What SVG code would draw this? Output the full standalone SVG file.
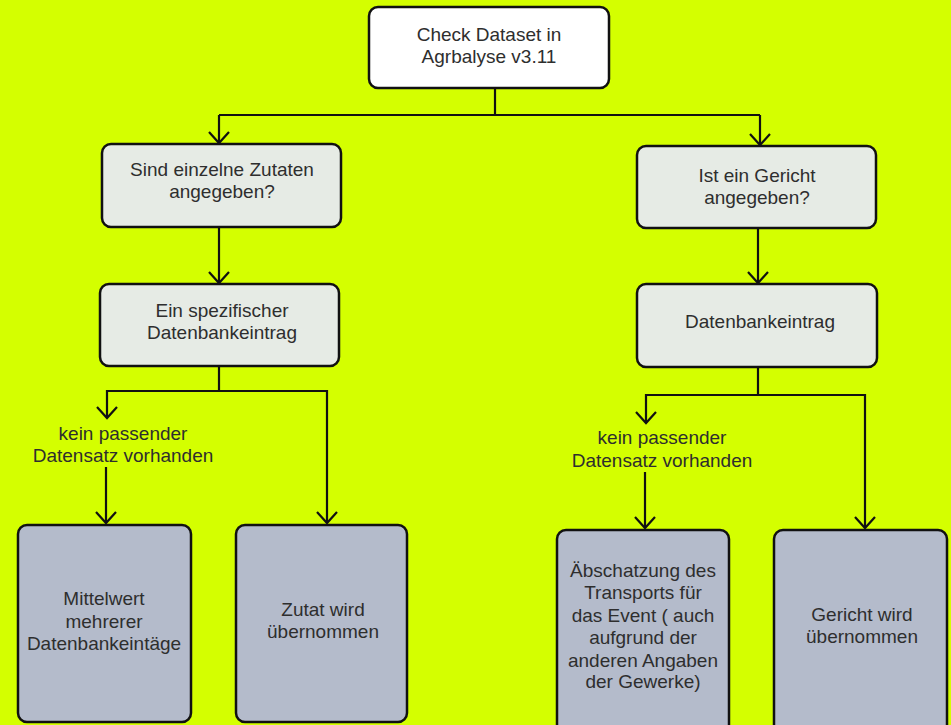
<svg xmlns="http://www.w3.org/2000/svg" width="951" height="725" viewBox="0 0 951 725">
<defs>
<style>
.box{stroke:#111;stroke-width:2.5}
.start{fill:#ffffff}
.mid{fill:#e6ebe5}
.end{fill:#b4bbcb}
text{font-family:"Liberation Sans",Arial,sans-serif;font-size:19px;fill:#2e2e2e;text-anchor:middle}
.conn{fill:none;stroke:#111;stroke-width:2.2}
</style>
<marker id="arr" markerUnits="userSpaceOnUse" markerWidth="16" markerHeight="26" viewBox="-13 -13 16 26" refX="0" refY="0" orient="auto">
<path d="M-11,-10 L0,0 L-11,10" fill="none" stroke="#111" stroke-width="2.2"/>
</marker>
</defs>
<rect width="951" height="725" fill="#d4ff00"/>
<g id="connectors">
<path class="conn" d="M495,88 V115"/>
<path class="conn" d="M219,115 H760"/>
<path class="conn" d="M219,115 V143" marker-end="url(#arr)"/>
<path class="conn" d="M760,115 V145" marker-end="url(#arr)"/>
<path class="conn" d="M219,227 V283" marker-end="url(#arr)"/>
<path class="conn" d="M758,228 V283" marker-end="url(#arr)"/>
<path class="conn" d="M219,366 V391 H107 V418" marker-end="url(#arr)"/>
<path class="conn" d="M219,391 H327 V523" marker-end="url(#arr)"/>
<path class="conn" d="M106,467 V523" marker-end="url(#arr)"/>
<path class="conn" d="M758,367 V395 H646 V423" marker-end="url(#arr)"/>
<path class="conn" d="M758,395 H865 V528" marker-end="url(#arr)"/>
<path class="conn" d="M645,472 V528" marker-end="url(#arr)"/>
</g>
<g id="label-left">
<text x="123" y="440">kein passender</text>
<text x="123" y="462">Datensatz vorhanden</text>
</g>
<g id="label-right">
<text x="662" y="444">kein passender</text>
<text x="662" y="467">Datensatz vorhanden</text>
</g>
<g id="n-check">
<rect class="box start" x="369" y="7" width="240" height="81" rx="9"/>
<text x="489" y="41">Check Dataset in</text>
<text x="489" y="63">Agrbalyse v3.11</text>
</g>
<g id="n-zutaten">
<rect class="box mid" x="102" y="144" width="239" height="83" rx="9"/>
<text x="222" y="176">Sind einzelne Zutaten</text>
<text x="222" y="198">angegeben?</text>
</g>
<g id="n-spezifisch">
<rect class="box mid" x="100" y="284" width="239" height="82" rx="9"/>
<text x="222" y="317">Ein spezifischer</text>
<text x="222" y="339">Datenbankeintrag</text>
</g>
<g id="n-gericht">
<rect class="box mid" x="637" y="146" width="239" height="82" rx="9"/>
<text x="757" y="182">Ist ein Gericht</text>
<text x="757" y="204">angegeben?</text>
</g>
<g id="n-datenbank">
<rect class="box mid" x="637" y="284" width="240" height="83" rx="9"/>
<text x="760" y="328">Datenbankeintrag</text>
</g>
<g id="n-mittelwert">
<rect class="box end" x="18" y="525" width="173" height="197" rx="9"/>
<text x="104" y="605">Mittelwert</text>
<text x="104" y="628">mehrerer</text>
<text x="104" y="650">Datenbankeintäge</text>
</g>
<g id="n-zutat">
<rect class="box end" x="236" y="525" width="171" height="197" rx="9"/>
<text x="323" y="616">Zutat wird</text>
<text x="323" y="638">übernommen</text>
</g>
<g id="n-abschatzung">
<rect class="box end" x="557" y="530" width="172" height="210" rx="9"/>
<text x="643" y="577">Äbschatzung des</text>
<text x="643" y="599">Transports für</text>
<text x="643" y="622">das Event ( auch</text>
<text x="643" y="644">aufgrund der</text>
<text x="643" y="667">anderen Angaben</text>
<text x="643" y="688">der Gewerke)</text>
</g>
<g id="n-gericht-ueb">
<rect class="box end" x="774" y="530" width="173" height="210" rx="9"/>
<text x="862" y="621">Gericht wird</text>
<text x="862" y="643">übernommen</text>
</g>
</svg>
